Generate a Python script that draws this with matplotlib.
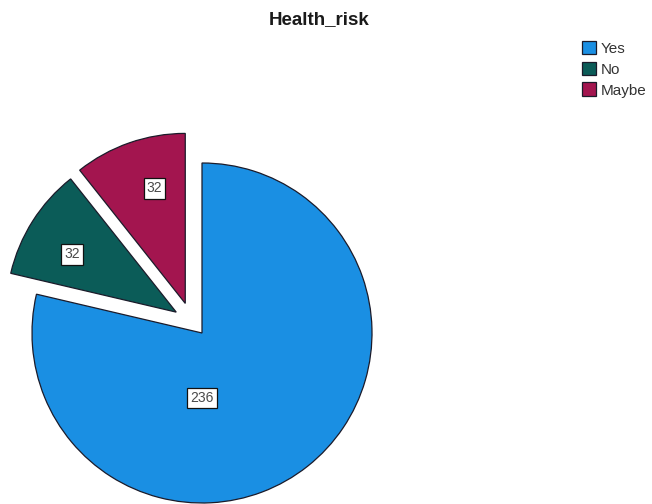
import numpy as np
import matplotlib
matplotlib.use("Agg")
import matplotlib.pyplot as plt
from matplotlib.patches import Patch

# Data
categories = ["Yes", "No", "Maybe"]
counts = [236, 32, 32]
title = "Health_risk"

# Style
colors = ["#1A8FE3", "#0B5C58", "#A3154F"]
edge = "#1b1b2a"
# pulled-out slices: (distance, direction in degrees) in pie-radius units
pull = [(0.0, 0.0), (0.195, 141.0), (0.20, 119.5)]
# label placement relative to each slice's apex: (radius fraction, angle in degrees)
label_place = [(0.382, 270.0), (0.70, 151.0), (0.70, 105.0)]

W, H = 652, 504
cx, cy, rpx = 202, 333, 170  # pie centre and radius in pixels

fig = plt.figure(figsize=(W / 100, H / 100), dpi=100)
fig.patch.set_facecolor("white")
ax = fig.add_axes([0, 0, 1, 1])

wedges, _ = ax.pie(counts, colors=colors, startangle=90, counterclock=False,
                   radius=1.0, center=(0, 0), frame=True,
                   wedgeprops=dict(edgecolor=edge, linewidth=0.9))
ax.set_xlim(-cx / rpx, (W - cx) / rpx)
ax.set_ylim(-(H - cy) / rpx, cy / rpx)
ax.set_aspect("auto")
ax.axis("off")

for w, (d, a), (lr, la), v in zip(wedges, pull, label_place, counts):
    ox = d * np.cos(np.radians(a))
    oy = d * np.sin(np.radians(a))
    w.set_center((ox, oy))
    lx = ox + lr * np.cos(np.radians(la))
    ly = oy + lr * np.sin(np.radians(la))
    ax.text(lx, ly, str(v), ha="center", va="center", fontsize=10,
            family="Liberation Sans", color="#4a4a4a",
            bbox=dict(boxstyle="square,pad=0.22", facecolor="white",
                      edgecolor="#111111", linewidth=0.9))

fig.text(319.5 / W, 1 - 20 / H, title, ha="center", va="center",
         fontsize=13.5, fontweight="bold", family="Liberation Sans", color="#1a1a1a")

handles = [Patch(facecolor=c, edgecolor=edge, linewidth=0.9) for c in colors]
leg = fig.legend(handles, categories, loc="upper left",
                 bbox_to_anchor=(571 / W, 1 - 30 / H),
                 frameon=False, handlelength=0.95, handleheight=1.0,
                 handletextpad=0.3, labelspacing=0.38, borderpad=0.2,
                 prop=dict(family="Liberation Sans", size=11))
for t in leg.get_texts():
    t.set_color("#333333")

fig.savefig("out.png", dpi=100, facecolor="white")
